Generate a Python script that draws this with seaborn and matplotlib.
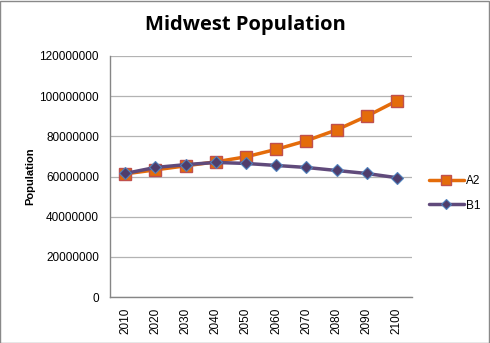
import matplotlib
matplotlib.use("Agg")
import matplotlib.pyplot as plt
import seaborn as sns
import pandas as pd
from matplotlib.ticker import FuncFormatter, MultipleLocator
from matplotlib.patches import Rectangle

years = ["2010", "2020", "2030", "2040", "2050", "2060", "2070", "2080", "2090", "2100"]
a2 = [61.3e6, 63.3e6, 65.3e6, 67.3e6, 69.8e6, 73.5e6, 77.8e6, 83.2e6, 90.0e6, 97.7e6]
b1 = [61.5e6, 64.5e6, 65.9e6, 67.0e6, 66.5e6, 65.5e6, 64.5e6, 63.0e6, 61.5e6, 59.4e6]

sns.set_theme(style="white")
plt.rcParams['font.family'] = ['Liberation Sans', 'DejaVu Sans']
plt.rcParams['text.color'] = 'black'
plt.rcParams['axes.labelcolor'] = 'black'

fig = plt.figure(figsize=(4.9, 3.43), dpi=100)
ax = fig.add_axes([110/490, 1-297/343, 302/490, (297-56)/343])

df = pd.DataFrame({"Year": years * 2, "Population": a2 + b1,
                   "Series": ["A2"] * len(years) + ["B1"] * len(years)})

sns.lineplot(data=df[df.Series == "A2"], x="Year", y="Population", ax=ax,
             color="#E46C0A", lw=2.5, marker="s", markersize=8,
             markerfacecolor="#E46C0A", markeredgecolor="#C0504D", markeredgewidth=1,
             label="A2", sort=False)
sns.lineplot(data=df[df.Series == "B1"], x="Year", y="Population", ax=ax,
             color="#604A7B", lw=2.5, marker="D", markersize=6,
             markerfacecolor="#4F3D6B", markeredgecolor="#4F81BD", markeredgewidth=0.8,
             label="B1", sort=False)

ax.set_xlim(-0.5, 9.5)
ax.set_ylim(0, 120e6)
ax.yaxis.set_major_locator(MultipleLocator(20e6))
ax.yaxis.set_major_formatter(FuncFormatter(lambda v, p: f"{int(round(v))}"))
ax.grid(axis="y", color="#B3B3B3", lw=0.9)
ax.set_axisbelow(True)
for s in ["top", "right"]:
    ax.spines[s].set_visible(False)
for s in ["left", "bottom"]:
    ax.spines[s].set_color("#868686")
    ax.spines[s].set_linewidth(1)
ax.tick_params(axis="x", rotation=90, labelsize=8.5, length=0, pad=8, colors="black")
ax.tick_params(axis="y", labelsize=8.5, length=0, pad=8, colors="black")
ax.set_xlabel("")
ax.set_ylabel("Population", fontsize=8, fontweight="bold", labelpad=3, color="black")

leg = ax.legend(loc="center left", bbox_to_anchor=(1.02, 0.43), frameon=False,
                fontsize=8.5, handlelength=3, labelspacing=1.05, handletextpad=0.2,
                markerscale=0.85)
for t in leg.get_texts():
    t.set_color("black")

fig.suptitle("Midwest Population", x=245/490, y=1-25/343, va="center", color="black",
             fontsize=14.5, fontweight="bold", family=["Open Sans", "DejaVu Sans"])
fig.patches.append(Rectangle((0.001, 0.001), 0.997, 0.996, transform=fig.transFigure,
                             fill=False, edgecolor="#898989", lw=1))

fig.savefig("out.png", dpi=100)
